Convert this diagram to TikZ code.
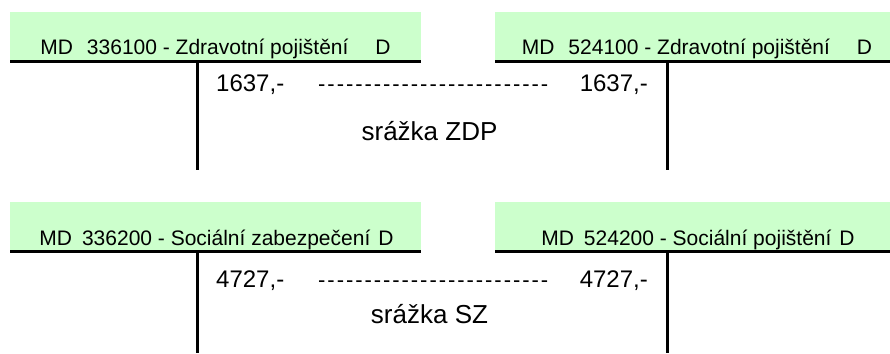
\documentclass[tikz,border=0pt]{standalone}
\usepackage{fontspec}
\setmainfont{Liberation Sans}
\definecolor{ledger}{HTML}{CCFFCC}
\newcommand{\dashrow}{\makebox[230pt][s]{-\hfill-\hfill-\hfill-\hfill-\hfill-\hfill-\hfill-\hfill-\hfill-\hfill-\hfill-\hfill-\hfill-\hfill-\hfill-\hfill-\hfill-\hfill-\hfill-\hfill-\hfill-\hfill-\hfill-\hfill-}}
\begin{document}
\begin{tikzpicture}[x=1pt,y=-1pt,
  head/.style={fill=ledger, draw=none, inner sep=0, minimum width=#1, minimum height=49pt, anchor=north west},
  rule/.style={line width=3pt},
  headtext/.style={font=\fontsize{21}{21}\selectfont, anchor=base, inner sep=0},
  amount/.style={font=\fontsize{24}{24}\selectfont, inner sep=0},
  dashes/.style={font=\fontsize{22}{22}\selectfont, inner sep=0, anchor=base west},
  note/.style={font=\fontsize{26}{26}\selectfont, anchor=base, inner sep=0}]
\useasboundingbox (0,0) rectangle (890,353);

% T-account headers
\node[head=411pt] (hA) at (10,12) {};
\node[head=395pt] (hB) at (495,12) {};
\node[head=411pt] (hC) at (10,202) {};
\node[head=395pt] (hD) at (495,202) {};

% account titles
\node[headtext] (tA) at (215.5,55) {MD\hspace{14pt}336100 - Zdravotní pojištění\hspace{27pt}D};
\node[headtext] (tB) at (697,55) {MD\hspace{14pt}524100 - Zdravotní pojištění\hspace{27pt}D};
\node[headtext] (tC) at (216.5,245) {MD\hspace{10pt}336200 - Sociální zabezpečení\hspace{8pt}D};
\node[headtext] (tD) at (698,245) {MD\hspace{10pt}524200 - Sociální pojištění\hspace{8pt}D};

% T-account rules
\coordinate (vA) at (197,170);
\coordinate (vB) at (667,170);
\coordinate (vC) at (197,353);
\coordinate (vD) at (667,353);
\foreach \h/\v in {hA/vA, hB/vB, hC/vC, hD/vD}{
  \draw[rule] (\h.south west) -- (\h.south east);
  \draw[rule] (\h.south -| \v) -- (\v);
}

% postings
\node[amount, anchor=base west] (aA) at (216,91) {1637,-};
\node[amount, anchor=base east] (aB) at (648,91) {1637,-};
\node[dashes] (dA) at (318,91) {\dashrow};
\node[note] (nA) at (429.5,140) {srážka ZDP};

\node[amount, anchor=base west] (aC) at (216,287) {4727,-};
\node[amount, anchor=base east] (aD) at (648,287) {4727,-};
\node[dashes] (dC) at (318,287) {\dashrow};
\node[note] (nC) at (429.5,323) {srážka SZ};
\end{tikzpicture}
\end{document}
